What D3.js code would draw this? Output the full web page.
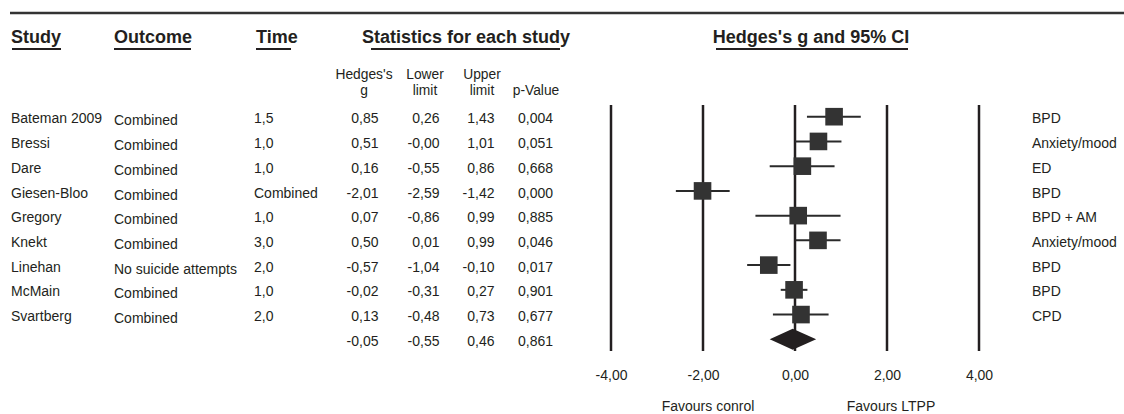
<!DOCTYPE html>
<html>
<head>
<meta charset="utf-8">
<script src="https://cdn.jsdelivr.net/npm/d3@7"></script>
<style>
  html, body { margin: 0; padding: 0; background: #fff; }
  svg { display: block; font-family: "Liberation Sans", Arial, Helvetica, sans-serif; }
</style>
</head>
<body>
<svg id="chart" width="1124" height="414"></svg>
<script>
// Study-level data
const studies   = ["Bateman 2009", "Bressi", "Dare", "Giesen-Bloo", "Gregory", "Knekt", "Linehan", "McMain", "Svartberg"];
const outcomes  = ["Combined", "Combined", "Combined", "Combined", "Combined", "Combined", "No suicide attempts", "Combined", "Combined"];
const times     = ["1,5", "1,0", "1,0", "Combined", "1,0", "3,0", "2,0", "1,0", "2,0"];
const hedgesG   = [0.85, 0.51, 0.16, -2.01, 0.07, 0.50, -0.57, -0.02, 0.13];
const lowerLim  = [0.26, -0.00, -0.55, -2.59, -0.86, 0.01, -1.04, -0.31, -0.48];
const upperLim  = [1.43, 1.01, 0.86, -1.42, 0.99, 0.99, -0.10, 0.27, 0.73];
const pValues   = [0.004, 0.051, 0.668, 0.000, 0.885, 0.046, 0.017, 0.901, 0.677];
const disorders = ["BPD", "Anxiety/mood", "ED", "BPD", "BPD + AM", "Anxiety/mood", "BPD", "BPD", "CPD"];

// Pooled estimate
const pooledG = -0.05, pooledLower = -0.55, pooledUpper = 0.46, pooledP = 0.861;

// Axis
const xTicks = [-4, -2, 0, 2, 4];
const xDomain = [-4, 4];
const favourLabels = ["Favours conrol", "Favours LTPP"];

const ink = "#231f20";
const bodySize = 14;
const svg = d3.select("#chart");

const fmtNum = (v, d) => {
  const neg = v < 0 || Object.is(v, -0);
  return (neg ? "-" : "") + Math.abs(v).toFixed(d).replace(".", ",");
};

const rowKeys = studies.concat(["__pooled"]);
const y = d3.scalePoint().domain(rowKeys).range([116.7, 339.3]);
const x = d3.scaleLinear().domain(xDomain).range([611, 979]);

// Top rule
svg.append("line")
  .attr("x1", 10).attr("x2", 1124).attr("y1", 13).attr("y2", 13)
  .attr("stroke", "#333").attr("stroke-width", 2.6);

// Column headings with underlines
const headings = [
  { t: "Study", x: 11, anchor: "start", u: [12, 61] },
  { t: "Outcome", x: 114, anchor: "start", u: [114, 191] },
  { t: "Time", x: 256, anchor: "start", u: [256, 291] },
  { t: "Statistics for each study", x: 466, anchor: "middle", u: [371, 560] },
  { t: "Hedges's g and 95% CI", x: 811, anchor: "middle", u: [716, 908] }
];
headings.forEach(h => {
  svg.append("text")
    .attr("x", h.x).attr("y", 43)
    .attr("text-anchor", h.anchor)
    .attr("font-size", 18).attr("font-weight", "bold")
    .attr("fill", ink)
    .text(h.t);
  svg.append("line")
    .attr("x1", h.u[0]).attr("x2", h.u[1]).attr("y1", 49).attr("y2", 49)
    .attr("stroke", ink).attr("stroke-width", 1.8);
});

// Statistics sub-headings
const subHeads = [
  { lines: ["Hedges's", "g"], x: 364 },
  { lines: ["Lower", "limit"], x: 425 },
  { lines: ["Upper", "limit"], x: 482 },
  { lines: ["p-Value"], x: 536 }
];
subHeads.forEach(s => {
  const start = s.lines.length === 2 ? 78.5 : 94.5;
  s.lines.forEach((ln, i) => {
    svg.append("text")
      .attr("x", s.x).attr("y", start + i * 16)
      .attr("text-anchor", "middle")
      .attr("font-size", 13.8).attr("fill", ink)
      .text(ln);
  });
});

// Table body
const body = svg.append("g").attr("font-size", bodySize).attr("fill", ink);
const cols = [
  { vals: studies, x: 11, anchor: "start", dy: 6.6 },
  { vals: outcomes, x: 114, anchor: "start", dy: 8.6 },
  { vals: times, x: 254, anchor: "start", dy: 6.6 },
  { vals: hedgesG.map(v => fmtNum(v, 2)), x: 378.5, anchor: "end", dy: 6.6 },
  { vals: lowerLim.map(v => fmtNum(v, 2)), x: 439.5, anchor: "end", dy: 6.6 },
  { vals: upperLim.map(v => fmtNum(v, 2)), x: 494.5, anchor: "end", dy: 6.6 },
  { vals: pValues.map(v => fmtNum(v, 3)), x: 553, anchor: "end", dy: 6.6 },
  { vals: disorders, x: 1032, anchor: "start", dy: 6.6 }
];
cols.forEach(c => {
  body.selectAll(null)
    .data(c.vals)
    .join("text")
    .attr("x", c.x)
    .attr("y", (d, i) => y(studies[i]) + c.dy)
    .attr("text-anchor", c.anchor)
    .text(d => d);
});

// Pooled row
const pooledVals = [
  { v: fmtNum(pooledG, 2), x: 378.5 },
  { v: fmtNum(pooledLower, 2), x: 439.5 },
  { v: fmtNum(pooledUpper, 2), x: 494.5 },
  { v: fmtNum(pooledP, 3), x: 553 }
];
body.selectAll(null)
  .data(pooledVals)
  .join("text")
  .attr("x", d => d.x)
  .attr("y", y("__pooled") + 6.6)
  .attr("text-anchor", "end")
  .text(d => d.v);

// Reference lines at tick values
svg.append("g")
  .selectAll("line")
  .data(xTicks)
  .join("line")
  .attr("x1", d => x(d)).attr("x2", d => x(d))
  .attr("y1", 105).attr("y2", 351)
  .attr("stroke", ink).attr("stroke-width", 2.5);

// Confidence intervals
const studyData = studies.map((s, i) => ({ s, g: hedgesG[i], lo: lowerLim[i], hi: upperLim[i] }));
svg.append("g")
  .selectAll("line")
  .data(studyData)
  .join("line")
  .attr("x1", d => x(d.lo)).attr("x2", d => x(d.hi))
  .attr("y1", d => y(d.s)).attr("y2", d => y(d.s))
  .attr("stroke", "#2a2a2a").attr("stroke-width", 2);

// Point estimates
const box = 17.6;
svg.append("g")
  .selectAll("rect")
  .data(studyData)
  .join("rect")
  .attr("x", d => x(d.g) - box / 2)
  .attr("y", d => y(d.s) - box / 2)
  .attr("width", box).attr("height", box)
  .attr("fill", "#333");

// Pooled diamond
const py = y("__pooled");
const half = 10.5;
svg.append("path")
  .attr("d", d3.line()([
    [x(pooledLower), py],
    [x(pooledG), py - half],
    [x(pooledUpper), py],
    [x(pooledG), py + half]
  ]) + "Z")
  .attr("fill", ink);

// Axis tick labels
const axis = d3.axisBottom(x)
  .tickValues(xTicks)
  .tickSize(0)
  .tickPadding(0)
  .tickFormat(d => fmtNum(d, 2));
const axisG = svg.append("g")
  .attr("transform", "translate(0,370)")
  .call(axis);
axisG.select(".domain").remove();
axisG.selectAll("text")
  .attr("font-size", bodySize)
  .attr("font-family", "Liberation Sans, Arial, sans-serif")
  .attr("fill", ink);

// Direction labels
svg.append("g")
  .attr("font-size", bodySize).attr("fill", ink)
  .selectAll("text")
  .data(favourLabels)
  .join("text")
  .attr("x", (d, i) => x(i === 0 ? -2 : 2) + (i === 0 ? 5 : 4))
  .attr("y", 411)
  .attr("text-anchor", "middle")
  .text(d => d);
</script>
</body>
</html>
